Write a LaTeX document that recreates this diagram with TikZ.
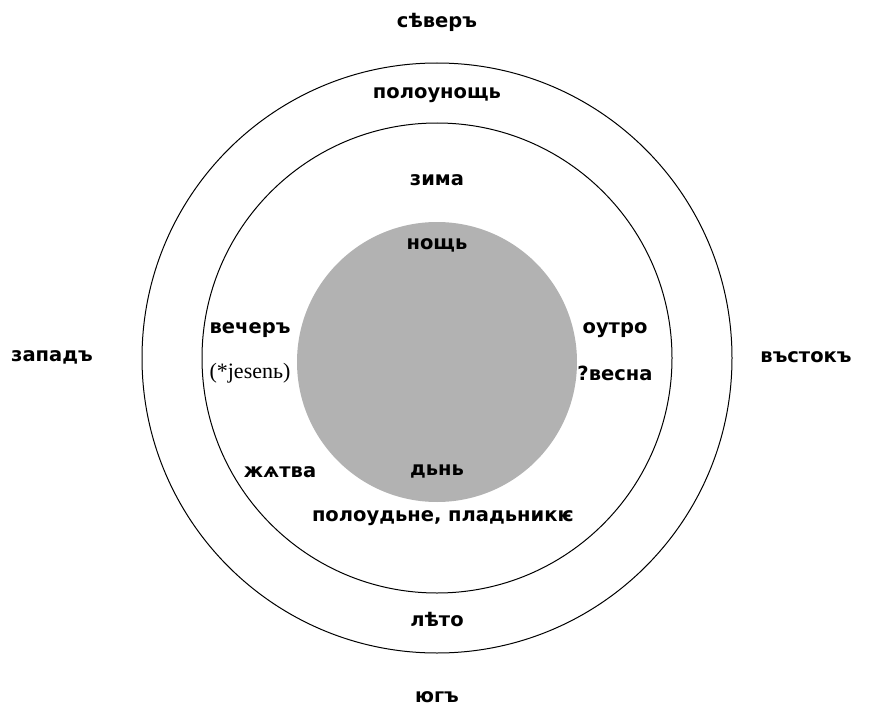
\documentclass[tikz,border=0pt]{standalone}
\usepackage{fontspec}
\setmainfont{Liberation Serif}
\newfontfamily\slav{DejaVu Sans}
\usepackage{tikz}
\usetikzlibrary{positioning}

\begin{document}
\begin{tikzpicture}[
  x=1pt, y=-1pt,
  lbl/.style={font=\slav\bfseries\fontsize{19.5}{22}\selectfont, inner sep=1pt},
  rom/.style={font=\fontsize{22}{24}\selectfont, inner sep=1pt},
  ring/.style={draw, line width=1pt},
]
\useasboundingbox (0,0) rectangle (871,717);
% ---------- rings ----------
\coordinate (c) at (437,358);
\draw[ring] (c) circle[radius=295];
\draw[ring] (c) circle[radius=235];
\fill[black!30] (437,362) circle[radius=140];
% ---------- compass ----------
\node[lbl] (north) at (437,22) {сѣверъ};
\node[lbl] (west) at (52,357) {западъ};
\node[lbl] (east) at (806,357) {въстокъ};
\node[lbl] (south) at (437,697) {югъ};
% ---------- outer ring ----------
\node[lbl] (midnight) at (437,95) {полоунощь};
\node[lbl] (summer) at (437,620) {лѣто};
% ---------- inner ring ----------
\node[lbl] (winter) at (437,180) {зима};
\node[lbl] (evening) at (250,330) {вечеръ};
\node[rom, below=23pt of evening] (autumn) {(*jesenь)};
\node[lbl] (morning) at (615,330) {оутро};
\node[lbl, below=26pt of morning] (spring) {?весна};
\node[lbl] (harvest) at (280,472) {жѧтва};
\node[lbl] (noon) at (443,518) {полоудьне, пладьникѥ};
% ---------- disk ----------
\node[lbl] (night) at (437,245) {нощь};
\node[lbl] (day) at (437,472) {дьнь};
\end{tikzpicture}
\end{document}
